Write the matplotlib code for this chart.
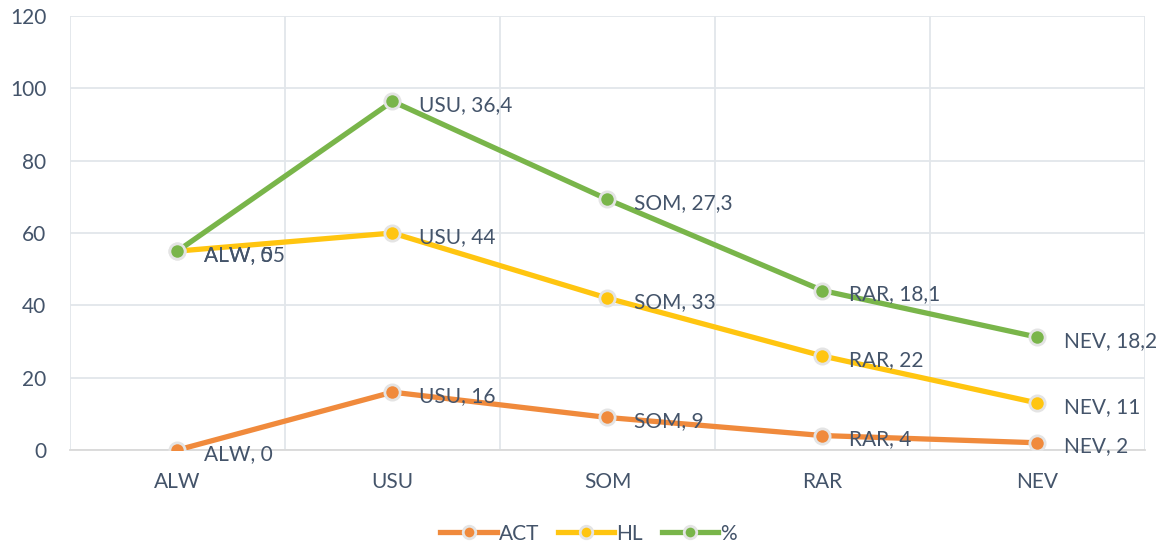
import numpy as np
import matplotlib.pyplot as plt
from matplotlib.lines import Line2D

# raw values (the chart stacks the series)
sites = ["ALW", "USU", "SOM", "RAR", "NEV"]
act = [0, 16, 9, 4, 2]
hl = [55, 44, 33, 22, 11]
pct = [0, 36.4, 27.3, 18.1, 18.2]

series_names = ["ACT", "HL", "%"]
colors = ["#F08A3C", "#FFC510", "#79B54A"]

text_col = "#44546A"
plt.rcParams["font.family"] = ["Lato", "DejaVu Sans"]

fig = plt.figure(figsize=(11.7, 5.54), dpi=100)
ax = fig.add_axes([0.0598, 0.1877, 0.9188, 0.7834])

x = np.arange(len(sites))
raw = [act, hl, pct]
stacked = np.cumsum(np.array(raw, dtype=float), axis=0)

handles = []
for vals, cum, col, name in zip(raw, stacked, colors, series_names):
    ax.plot(x, cum, color=col, lw=3.8, solid_capstyle="round", zorder=3,
            marker="o", ms=11, mfc=col, mec="#E4E4E4", mew=2)
    for xi, yi, v in zip(x, cum, vals):
        lab = "%s, %s" % (sites[xi], ("%g" % v).replace(".", ","))
        ax.text(xi + 0.125, yi - 1, lab, va="center", ha="left",
                fontsize=15, color=text_col, zorder=4)
    handles.append(Line2D([0], [0], color=col, lw=3.8, marker="o", ms=9,
                          mfc=col, mec="#E4E4E4", mew=2))

ax.set_xlim(-0.5, len(sites) - 0.5)
ax.set_ylim(0, 120)
ax.set_yticks(range(0, 121, 20))
ax.set_xticks(x)
ax.set_xticklabels(sites)
ax.set_xticks(np.arange(-0.5, len(sites), 1), minor=True)
ax.grid(axis="y", color="#E2E6EA", lw=1.3)
ax.grid(axis="x", which="minor", color="#E2E6EA", lw=1.3)
ax.set_axisbelow(True)
ax.tick_params(axis="both", which="both", length=0, labelsize=15, colors=text_col)
ax.tick_params(axis="x", pad=16)
ax.tick_params(axis="y", pad=17)
for s in ["top", "right", "left"]:
    ax.spines[s].set_visible(False)
ax.spines["bottom"].set_color("#D9D9D9")
ax.spines["bottom"].set_linewidth(1.3)

fig.legend(handles, series_names, loc="lower center", ncol=3, frameon=False,
           fontsize=15, labelcolor=text_col, bbox_to_anchor=(0.503, -0.015),
           handlelength=2.7, handletextpad=0.1, columnspacing=0.9)

fig.savefig("out.png", dpi=100)
